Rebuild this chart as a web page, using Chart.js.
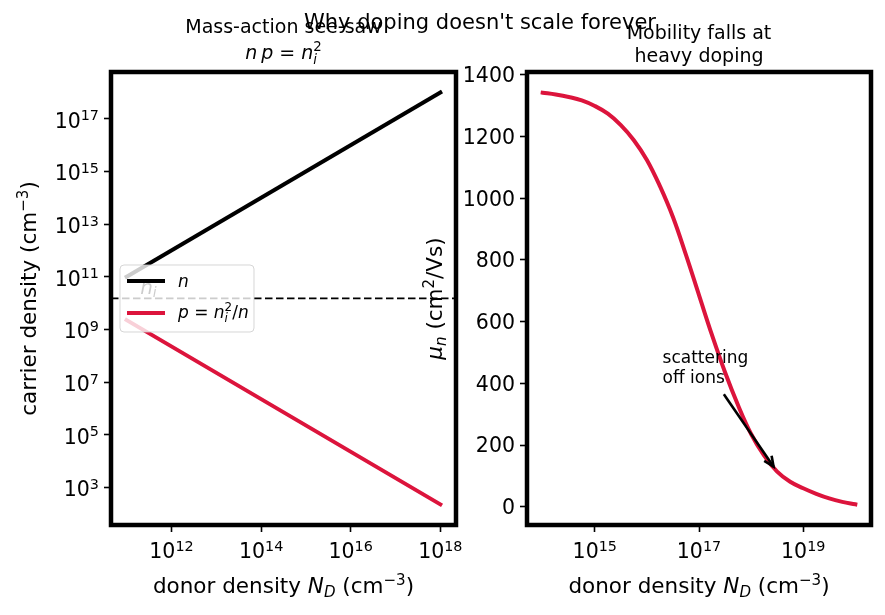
<!DOCTYPE html>
<html>
<head>
<meta charset="utf-8">
<script src="https://cdn.jsdelivr.net/npm/chart.js@4.4.1/dist/chart.umd.min.js"></script>
<style>
  html, body { margin: 0; padding: 0; background: #fff; }
  #wrap { position: relative; width: 885px; height: 615px; }
  canvas { position: absolute; left: 0; top: 0; }
</style>
</head>
<body>
<div id="wrap">
  <canvas id="left" width="885" height="615"></canvas>
  <canvas id="right" width="885" height="615"></canvas>
</div>
<script>
// --- left panel: mass-action see-saw ---
const donorEnds = [1e11, 1e18];
const electronEnds = [1e11, 1e18];
const holeEnds = [2.25e9, 225];
const intrinsic = 1.5e10;
const leftXTicks = [1e12, 1e14, 1e16, 1e18];
const leftYTicks = [1e3, 1e5, 1e7, 1e9, 1e11, 1e13, 1e15, 1e17];
const leftXRange = [4.47e10, 2.24e18];
const leftYRange = [37, 6.0e18];
const niLabelAt = [2e11, 2.25e10];

// --- right panel: mobility vs doping ---
const dopingGrid = [1e14, 1.78e14, 3.16e14, 5.62e14, 1e15, 1.78e15, 3.16e15, 5.62e15,
  1e16, 1.78e16, 3.16e16, 5.62e16, 1e17, 1.78e17, 3.16e17, 5.62e17,
  1e18, 1.78e18, 3.16e18, 5.62e18, 1e19, 1.78e19, 3.16e19, 5.62e19, 1e20];
const mobility = [1342, 1336, 1328, 1317, 1299, 1274, 1237, 1188,
  1124, 1039, 939, 816, 686, 556, 436, 329,
  236, 166, 114, 81, 60, 42, 27, 16, 8];
const rightXTicks = [1e15, 1e17, 1e19];
const rightYTicks = [0, 200, 400, 600, 800, 1000, 1200, 1400];
const rightXRange = [5.0e13, 2.0e20];
const rightYRange = [-59, 1409];
const noteAt = [2e16, 400];
const arrowFrom = [3e17, 365];
const arrowTo = [2.7e18, 130];

const CRIMSON = '#DC143C';
const FONT = '"DejaVu Sans", "Liberation Sans", sans-serif';
const TICK_SIZE = 20.5;
const LABEL_SIZE = 21.5;

function fnt(size, it) { return (it ? 'italic ' : '') + size + 'px ' + FONT; }

// tiny mathtext-ish layout: strings, {t, it, sub, sup}, {lo, hi}, {gap}
function layoutRich(ctx, parts, size) {
  let x = 0;
  const items = [];
  for (const p of parts) {
    const q = typeof p === 'string' ? { t: p } : p;
    if (q.gap) { x += q.gap * size; continue; }
    if (q.t !== undefined) {
      const s = (q.sub || q.sup) ? size * 0.7 : size;
      const dy = q.sup ? -size * 0.36 : q.sub ? size * 0.18 : 0;
      const f = fnt(s, q.it);
      ctx.font = f;
      items.push({ t: q.t, x, dy, f });
      x += ctx.measureText(q.t).width;
    } else {
      const s = size * 0.7;
      const f1 = fnt(s, true), f2 = fnt(s, false);
      ctx.font = f1; const w1 = ctx.measureText(q.lo).width;
      ctx.font = f2; const w2 = ctx.measureText(q.hi).width;
      items.push({ t: q.lo, x, dy: size * 0.24, f: f1 });
      items.push({ t: q.hi, x, dy: -size * 0.4, f: f2 });
      x += Math.max(w1, w2);
    }
  }
  return { items, width: x };
}

function drawRich(ctx, parts, x, y, size, align, rot, color) {
  const L = layoutRich(ctx, parts, size);
  const x0 = align === 'center' ? -L.width / 2 : align === 'right' ? -L.width : 0;
  ctx.save();
  ctx.translate(x, y);
  if (rot) ctx.rotate(rot);
  ctx.fillStyle = color || '#000';
  ctx.textAlign = 'left';
  ctx.textBaseline = 'alphabetic';
  for (const it of L.items) { ctx.font = it.f; ctx.fillText(it.t, x0 + it.x, it.dy); }
  ctx.restore();
}

const logLabel = v => ['10', { t: String(Math.round(Math.log10(v))), sup: true }];
const plainLabel = v => [String(v)];
const xLabelParts = ['donor density ', { t: 'N', it: true }, { t: 'D', it: true, sub: true }, ' (cm', { t: '\u22123', sup: true }, ')'];

function drawFrameAndTicks(chart, spec) {
  const { ctx, chartArea: a, scales: { x, y } } = chart;
  ctx.save();
  ctx.strokeStyle = '#000';
  ctx.lineWidth = 4.5;
  ctx.strokeRect(a.left, a.top, a.right - a.left, a.bottom - a.top);
  ctx.restore();
  spec.xTicks.forEach(v => drawRich(ctx, spec.xLabel(v), x.getPixelForValue(v), a.bottom + 33, TICK_SIZE, 'center'));
  spec.yTicks.forEach(v => drawRich(ctx, spec.yLabel(v), a.left - 12, y.getPixelForValue(v) + spec.yShift, TICK_SIZE, 'right'));
  drawRich(ctx, xLabelParts, (a.left + a.right) / 2, 593, LABEL_SIZE, 'center');
  drawRich(ctx, spec.yTitle, spec.yTitleX, (a.top + a.bottom) / 2, LABEL_SIZE, 'center', -Math.PI / 2);
}

function scaleCfg(range, ticks, type, fitKey, fitVal) {
  return {
    type, min: range[0], max: range[1], bounds: 'data',
    afterBuildTicks: s => { s.ticks = ticks.map(v => ({ value: v })); },
    afterFit: s => { s[fitKey] = fitVal; },
    ticks: { display: false },
    border: { display: false },
    grid: { display: true, drawOnChartArea: false, drawTicks: true, tickLength: 7, tickWidth: 1.6, tickColor: '#000' }
  };
}

function baseOptions(padding, xs, ys) {
  return {
    responsive: false, animation: false, devicePixelRatio: 1,
    layout: { padding },
    plugins: { legend: { display: false }, tooltip: { enabled: false }, title: { display: false } },
    elements: { point: { radius: 0 }, line: { tension: 0, borderCapStyle: 'square' } },
    scales: { x: xs, y: ys }
  };
}

// ---------- left chart ----------
new Chart(document.getElementById('left'), {
  type: 'line',
  data: {
    datasets: [
      { data: donorEnds.map((x, i) => ({ x, y: electronEnds[i] })), borderColor: '#000', borderWidth: 4 },
      { data: donorEnds.map((x, i) => ({ x, y: holeEnds[i] })), borderColor: CRIMSON, borderWidth: 4 },
      { data: leftXRange.map(x => ({ x, y: intrinsic })), borderColor: '#000', borderWidth: 1.8, borderDash: [7.5, 3.5], borderCapStyle: 'butt' }
    ]
  },
  options: baseOptions({ left: 0, top: 72, right: 429, bottom: 0 },
    scaleCfg(leftXRange, leftXTicks, 'logarithmic', 'height', 90),
    scaleCfg(leftYRange, leftYTicks, 'logarithmic', 'width', 111)),
  plugins: [{
    id: 'leftDecor',
    afterDatasetsDraw(chart) {
      const { ctx, scales: { x, y } } = chart;
      drawRich(ctx, [{ t: 'n', it: true }, { t: 'i', it: true, sub: true }],
        x.getPixelForValue(niLabelAt[0]), y.getPixelForValue(niLabelAt[1]), 20, 'left');
    },
    afterDraw(chart) {
      const { ctx, chartArea: a } = chart;
      drawFrameAndTicks(chart, {
        xTicks: leftXTicks, yTicks: leftYTicks, xLabel: logLabel, yLabel: logLabel, yShift: 9,
        yTitle: ['carrier density (cm', { t: '\u22123', sup: true }, ')'], yTitleX: 36
      });
      // legend
      ctx.save();
      ctx.beginPath();
      ctx.roundRect(120, 265, 134, 67, 4);
      ctx.fillStyle = 'rgba(255,255,255,0.8)';
      ctx.fill();
      ctx.strokeStyle = 'rgba(204,204,204,0.8)';
      ctx.lineWidth = 1;
      ctx.stroke();
      ctx.lineWidth = 4;
      ctx.strokeStyle = '#000';
      ctx.beginPath(); ctx.moveTo(127, 281); ctx.lineTo(165, 281); ctx.stroke();
      ctx.strokeStyle = CRIMSON;
      ctx.beginPath(); ctx.moveTo(127, 313); ctx.lineTo(165, 313); ctx.stroke();
      ctx.restore();
      drawRich(ctx, [{ t: 'n', it: true }], 178, 287, 17, 'left');
      drawRich(ctx, [{ t: 'p', it: true }, ' = ', { t: 'n', it: true }, { lo: 'i', hi: '2' }, '/', { t: 'n', it: true }], 178, 318, 17, 'left');
      // subplot title
      const cx = (a.left + a.right) / 2;
      drawRich(ctx, ['Mass-action see-saw'], cx, 33, 19, 'center');
      drawRich(ctx, [{ t: 'n', it: true }, { gap: 0.2 }, { t: 'p', it: true }, ' = ', { t: 'n', it: true }, { lo: 'i', hi: '2' }], cx, 59, 19, 'center');
    }
  }]
});

// ---------- right chart ----------
new Chart(document.getElementById('right'), {
  type: 'line',
  data: {
    datasets: [
      { data: dopingGrid.map((x, i) => ({ x, y: mobility[i] })), borderColor: CRIMSON, borderWidth: 4, tension: 0.4 }
    ]
  },
  options: baseOptions({ left: 0, top: 72, right: 14, bottom: 0 },
    scaleCfg(rightXRange, rightXTicks, 'logarithmic', 'height', 90),
    scaleCfg(rightYRange, rightYTicks, 'linear', 'width', 527)),
  plugins: [{
    id: 'rightDecor',
    afterDatasetsDraw(chart) {
      const { ctx, scales: { x, y } } = chart;
      // annotation
      const tx = x.getPixelForValue(noteAt[0]), ty = y.getPixelForValue(noteAt[1]);
      drawRich(ctx, ['scattering'], tx, ty - 20, 17, 'left');
      drawRich(ctx, ['off ions'], tx, ty, 17, 'left');
      const x1 = x.getPixelForValue(arrowFrom[0]), y1 = y.getPixelForValue(arrowFrom[1]);
      const x2 = x.getPixelForValue(arrowTo[0]), y2 = y.getPixelForValue(arrowTo[1]);
      const ang = Math.atan2(y2 - y1, x2 - x1);
      ctx.save();
      ctx.strokeStyle = '#000';
      ctx.lineWidth = 2.6;
      ctx.lineCap = 'butt';
      ctx.beginPath(); ctx.moveTo(x1, y1); ctx.lineTo(x2, y2); ctx.stroke();
      ctx.beginPath();
      ctx.moveTo(x2 - 11 * Math.cos(ang - 0.42), y2 - 11 * Math.sin(ang - 0.42));
      ctx.lineTo(x2, y2);
      ctx.lineTo(x2 - 11 * Math.cos(ang + 0.42), y2 - 11 * Math.sin(ang + 0.42));
      ctx.stroke();
      ctx.restore();
    },
    afterDraw(chart) {
      const { ctx, chartArea: a } = chart;
      drawFrameAndTicks(chart, {
        xTicks: rightXTicks, yTicks: rightYTicks, xLabel: logLabel, yLabel: plainLabel, yShift: 7.3,
        yTitle: [{ t: '\u03bc', it: true }, { t: 'n', it: true, sub: true }, ' (cm', { t: '2', sup: true }, '/Vs)'], yTitleX: 442
      });
      const cx = (a.left + a.right) / 2;
      drawRich(ctx, ['Mobility falls at'], cx, 39, 19, 'center');
      drawRich(ctx, ['heavy doping'], cx, 61.5, 19, 'center');
      // figure title
      drawRich(ctx, ["Why doping doesn't scale forever"], 480, 29, 21, 'center');
    }
  }]
});
</script>
</body>
</html>
